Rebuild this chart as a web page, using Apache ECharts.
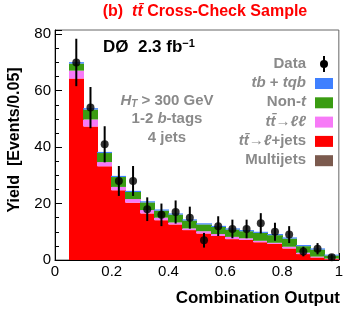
<!DOCTYPE html>
<html><head><meta charset="utf-8">
<script src="https://cdn.jsdelivr.net/npm/echarts@6/dist/echarts.min.js"></script>
<style>html,body{margin:0;padding:0;background:#fff}#c{width:346px;height:313px}</style>
</head><body><div id="c"></div>
<script>
// bin lower edges (width 0.05)
const binLow = [0.05,0.10,0.15,0.20,0.25,0.30,0.35,0.40,0.45,0.50,0.55,0.60,0.65,0.70,0.75,0.80,0.85,0.90,0.95];
const binWidth = 0.05;
const multijets = [0,0,0,0,0,0,0,0,0,0,0,0,0,0,0,0,0,0,0];
const ttLjets   = [64.3,47.3,33.2,24.7,20.3,16.5,14.1,12.6,10.6,9.4,8.5,7.4,7.1,6.3,5.7,4.1,2.1,0.9,0.3];
const ttLL      = [2.8,2.5,1.5,1.2,1.3,1.2,0.9,0.7,0.6,0.8,0.7,0.8,0.6,0.5,0.4,0.6,0.5,0.3,0.2];
const nonT      = [2.5,3.5,3.2,3.5,2.5,2.7,2.5,2.8,2.8,2.4,2.5,2.6,2.5,2.8,2.7,2.9,2.3,2.5,1.1];
const tbTqb     = [0.5,0.5,0.4,0.4,0.4,0.4,0.4,0.4,0.4,0.4,0.4,0.4,0.4,0.4,0.4,0.4,0.4,0.4,0.3];
const dataVals  = [70,54,41,28,28,18,16,17,15,7,12,11,11,13,10,9,3,4,1];
const dataErr   = [8.4,7.3,6.4,5.3,5.3,4.2,4.0,4.1,3.9,2.6,3.5,3.3,3.3,3.6,3.2,3.0,1.7,2.0,1.0];
const yTicks = [0,20,40,60,80];
const xTicks = [0,0.2,0.4,0.6,0.8,1];

const comps = [
  {name:'Multijets', vals:multijets, color:'#7b5a4e'},
  {name:'ttLjets', vals:ttLjets, color:'#ff0000'},
  {name:'ttLL', vals:ttLL, color:'#f77af7'},
  {name:'Non-t', vals:nonT, color:'#3a9c12'},
  {name:'tb+tqb', vals:tbTqb, color:'#3f80ff'}
];
const base = binLow.map(()=>0);
const barSeries = comps.map(c=>{
  const d = binLow.map((lo,i)=>{ const b=base[i]; base[i]+=c.vals[i]; return [lo, lo+binWidth, b, base[i]]; });
  return {
    type:'custom', name:c.name, data:d, encode:{x:[0,1],y:[2,3]}, z:2,
    renderItem:(params, api)=>{
      const p0 = api.coord([api.value(0), api.value(3)]);
      const p1 = api.coord([api.value(1), api.value(2)]);
      const x0 = Math.floor(p0[0]), x1 = Math.ceil(p1[0]);
      return {type:'rect', shape:{x:x0, y:p0[1], width:x1-x0, height:p1[1]-p0[1]}, style:{fill:c.color}};
    }
  };
});
const errSeries = {
  type:'custom', z:5,
  data: binLow.map((lo,i)=>[lo+binWidth/2, dataVals[i]-dataErr[i], dataVals[i]+dataErr[i]]),
  encode:{x:0,y:[1,2]},
  renderItem:(params, api)=>{
    const a = api.coord([api.value(0), api.value(1)]);
    const b = api.coord([api.value(0), api.value(2)]);
    return {type:'line', shape:{x1:a[0],y1:a[1],x2:b[0],y2:b[1]}, style:{stroke:'#000', lineWidth:2}};
  }
};
const dotSeries = {
  type:'scatter', z:6, symbol:'circle', symbolSize:8, itemStyle:{color:'#000'},
  data: binLow.map((lo,i)=>[lo+binWidth/2, dataVals[i]])
};

const gray = '#8a8a8a';
const F = 'Liberation Sans, Arial, Helvetica, sans-serif';
const legendItems = [
  {label:'{it|tb}{n| + }{it|tqb}', color:'#3f80ff'},
  {label:'{n|Non-}{it|t}', color:'#3a9c12'},
  {label:'{it|tt\u0304}{n|\u2192}{it|\u2113\u2113}', color:'#f77af7'},
  {label:'{it|tt\u0304}{n|\u2192}{it|\u2113}{n|+jets}', color:'#ff0000'},
  {label:'{n|Multijets}', color:'#7b5a4e'}
];
const richGray = {
  n:{fontFamily:F, fontWeight:'bold', fontSize:15, fill:gray},
  it:{fontFamily:F, fontWeight:'bold', fontStyle:'italic', fontSize:15, fill:gray}
};
const graphics = [];
graphics.push({type:'text', x:205, y:12, style:{
  text:'{n|(b)  }{it|tt\u0304}{n| Cross-Check Sample}', align:'center', verticalAlign:'middle',
  rich:{n:{fontFamily:F,fontWeight:'bold',fontSize:16,fill:'#ff0000'}, it:{fontFamily:F,fontWeight:'bold',fontStyle:'italic',fontSize:16,fill:'#ff0000'}}
}});
graphics.push({type:'text', x:103, y:38, style:{text:'D\u00d8  2.3 fb{s|\u22121}', fontFamily:F, fontWeight:'bold', fontSize:17, fill:'#000',
  rich:{s:{fontFamily:F,fontWeight:'bold',fontSize:11,fill:'#000',verticalAlign:'top',padding:[0,0,8,0]}}}});
const richHT = {
  n:{fontFamily:F,fontWeight:'bold',fontSize:15,fill:gray},
  it:{fontFamily:F,fontWeight:'bold',fontStyle:'italic',fontSize:15,fill:gray},
  sub:{fontFamily:F,fontWeight:'bold',fontStyle:'italic',fontSize:10,fill:gray,padding:[6,0,0,0]}
};
graphics.push({type:'text', x:167, y:101, style:{text:'{it|H}{sub|T}{n| > 300 GeV}', align:'center', verticalAlign:'middle', rich:richHT}});
graphics.push({type:'text', x:167, y:119, style:{text:'{n|1-2 }{it|b}{n|-tags}', align:'center', verticalAlign:'middle', rich:richHT}});
graphics.push({type:'text', x:167, y:138, style:{text:'{n|4 jets}', align:'center', verticalAlign:'middle', rich:richHT}});
// legend
graphics.push({type:'text', x:306, y:64, style:{text:'Data', align:'right', verticalAlign:'middle', fontFamily:F, fontWeight:'bold', fontSize:15, fill:gray}});
graphics.push({type:'line', shape:{x1:324,y1:56,x2:324,y2:72}, style:{stroke:'#000', lineWidth:2}});
graphics.push({type:'circle', shape:{cx:324,cy:64,r:4}, style:{fill:'#000'}});
legendItems.forEach((it,i)=>{
  const y = 83 + i*19.3;
  graphics.push({type:'text', x:306, y:y, style:{text:it.label, align:'right', verticalAlign:'middle', rich:richGray}});
  graphics.push({type:'rect', shape:{x:315, y:y-5, width:18, height:11}, style:{fill:it.color}});
});
graphics.push({type:'text', x:15, y:140, rotation:Math.PI/2, style:{text:'Yield  [Events/0.05]', align:'center', verticalAlign:'middle', fontFamily:F, fontWeight:'bold', fontSize:16, fill:'#000'}});
graphics.push({type:'text', x:340, y:298, style:{text:'Combination Output', align:'right', verticalAlign:'middle', fontFamily:F, fontWeight:'bold', fontSize:17, fill:'#000'}});

const chart = echarts.init(document.getElementById('c'), null, {renderer:'canvas'});
chart.setOption({
  animation:false,
  grid:{left:55, right:5, top:30, bottom:53, show:true, borderColor:'#666', borderWidth:1},
  xAxis:{type:'value', min:0, max:1, interval:0.2,
    axisLine:{show:true, lineStyle:{color:'#000', width:1}},
    axisTick:{inside:true, length:7, lineStyle:{color:'#000'}},
    minorTick:{show:true, splitNumber:4, length:4, lineStyle:{color:'#000'}},
    splitLine:{show:false},
    axisLabel:{fontFamily:F, fontSize:15, color:'#000', margin:4,
      formatter:v=> xTicks.some(t=>Math.abs(t-v)<1e-6) ? String(+v.toFixed(1)) : ''}
  },
  yAxis:{type:'value', min:0, max:81.5, interval:20,
    axisLine:{show:true, lineStyle:{color:'#000', width:1}},
    axisTick:{inside:true, length:7, lineStyle:{color:'#000'}},
    minorTick:{show:true, splitNumber:4, length:4, lineStyle:{color:'#000'}},
    splitLine:{show:false},
    axisLabel:{fontFamily:F, fontSize:15, color:'#000', margin:4, showMaxLabel:false,
      formatter:v=> yTicks.includes(v) ? String(v) : ''}
  },
  series:[...barSeries, errSeries, dotSeries],
  graphic:graphics
});
</script></body></html>
